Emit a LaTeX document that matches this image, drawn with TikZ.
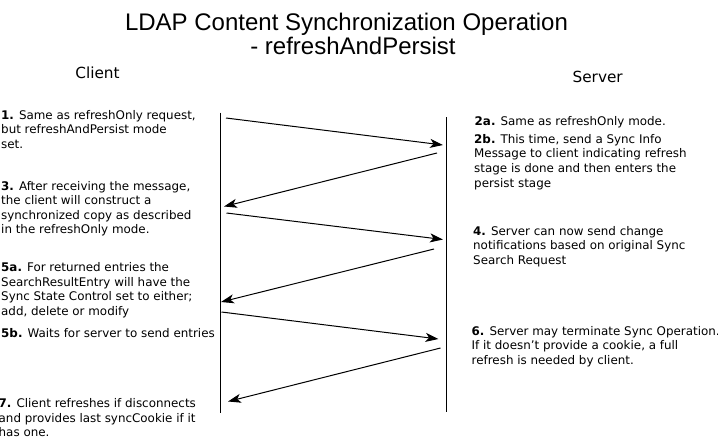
\documentclass[tikz,border=0pt]{standalone}
\usepackage{fontspec}
\setmainfont{DejaVu Sans}
\newfontfamily\titlefont{Liberation Sans}
\usetikzlibrary{arrows.meta}
\newcommand{\blocktext}[1]{\begin{tabular}[t]{@{}l@{}}#1\end{tabular}}
\begin{document}
\begin{tikzpicture}[x=1pt,y=-1pt,
  msg/.style={line width=1pt,-{Stealth[length=13pt,width=9pt,inset=3.5pt]}},
  life/.style={line width=1pt},
  note/.style={anchor=base west,inner sep=0pt,font=\fontsize{11.9}{14.6}\selectfont},
  head/.style={anchor=base,inner sep=0pt,font=\fontsize{15.3}{18}\selectfont},
  ttl/.style={anchor=base,inner sep=0pt,font=\titlefont\fontsize{24}{26}\selectfont}]
\useasboundingbox[fill=white] (0,0) rectangle (718,437);

% title
\node[ttl] (t1) at (346.5,30) {LDAP Content Synchronization Operation};
\node[ttl] (t2) at (353,54.5) {- refreshAndPersist};

% headers
\node[head] (client) at (97.5,78.3) {Client};
\node[head] (server) at (597.7,82.7) {Server};

% lifelines
\coordinate (c1) at (220.5,112.5);
\coordinate (c2) at (220.5,413);
\coordinate (s1) at (446,117);
\coordinate (s2) at (446,412);
\draw[life] (c1) -- (c2);
\draw[life] (s1) -- (s2);

% messages
\coordinate (m1s) at (226,118);   \coordinate (m1e) at (443,145);
\coordinate (m2s) at (437,153);   \coordinate (m2e) at (224,206.5);
\coordinate (m3s) at (226.5,213); \coordinate (m3e) at (443,239.5);
\coordinate (m4s) at (434,249);   \coordinate (m4e) at (221,302);
\coordinate (m5s) at (221.5,312); \coordinate (m5e) at (438.5,339);
\coordinate (m6s) at (440.5,348); \coordinate (m6e) at (228,401.5);
\draw[msg] (m1s) -- (m1e);
\draw[msg] (m2s) -- (m2e);
\draw[msg] (m3s) -- (m3e);
\draw[msg] (m4s) -- (m4e);
\draw[msg] (m5s) -- (m5e);
\draw[msg] (m6s) -- (m6e);

% client notes
\node[note] (n1) at (1,119.3) {\blocktext{\textbf{1.} Same as refreshOnly request,\\but refreshAndPersist mode\\set.}};
\node[note] (n3) at (1,190) {\blocktext{\textbf{3.} After receiving the message,\\the client will construct a\\synchronized copy as described\\in the refreshOnly mode.}};
\node[note] (n5a) at (1,271.7) {\blocktext{\textbf{5a.} For returned entries the\\SearchResultEntry will have the\\Sync State Control set to either;\\add, delete or modify}};
\node[note] (n5b) at (1,337.3) {\textbf{5b.} Waits for server to send entries};
\node[note] (n7) at (-1.5,407.7) {\blocktext{\textbf{7.} Client refreshes if disconnects\\and provides last syncCookie if it\\has one.}};

% server notes
\node[note] (n2a) at (474.5,125) {\textbf{2a.} Same as refreshOnly mode.};
\node[note] (n2b) at (474,143.3) {\blocktext{\textbf{2b.} This time, send a Sync Info\\Message to client indicating refresh\\stage is done and then enters the\\persist stage}};
\node[note] (n4) at (473,235) {\blocktext{\textbf{4.} Server can now send change\\notifications based on original Sync\\Search Request}};
\node[note] (n6) at (471.5,335) {\blocktext{\textbf{6.} Server may terminate Sync Operation.\\If it doesn{\char"27}t provide a cookie, a full\\refresh is needed by client.}};
\end{tikzpicture}
\end{document}
